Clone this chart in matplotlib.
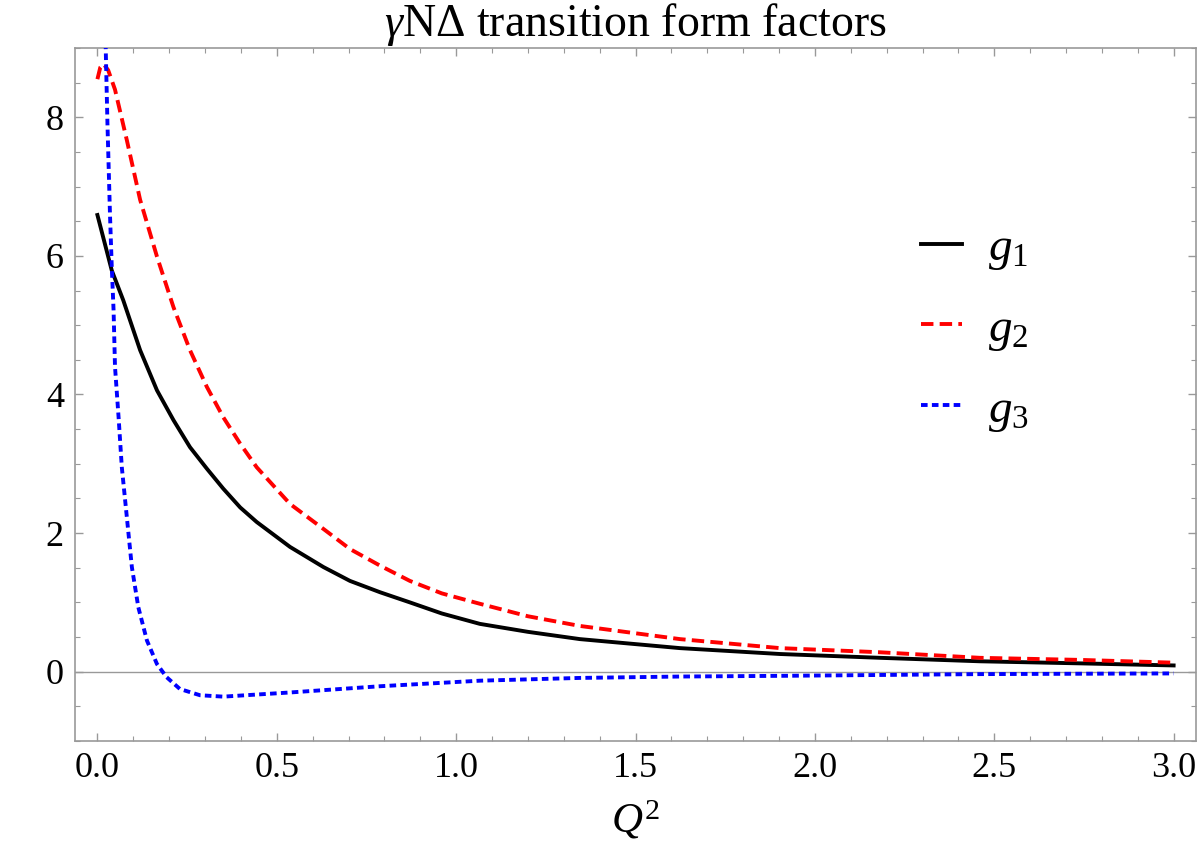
import numpy as np
import matplotlib
matplotlib.use('Agg')
import matplotlib.pyplot as plt
from matplotlib.ticker import MultipleLocator, FormatStrFormatter

plt.rcParams['font.family'] = ['Liberation Serif', 'DejaVu Serif']
plt.rcParams['mathtext.fontset'] = 'custom'
plt.rcParams['mathtext.rm'] = 'Liberation Serif'
plt.rcParams['mathtext.it'] = 'Liberation Serif:italic'

# values
q2_g1 = [0.0, 0.040, 0.072, 0.119, 0.166, 0.212, 0.258, 0.305, 0.351, 0.398,
         0.444, 0.537, 0.630, 0.704, 0.788, 0.871, 0.96, 1.066, 1.2, 1.345,
         1.624, 1.903, 2.182, 2.46, 2.74, 3.0]
g1 = [6.59, 5.79, 5.36, 4.64, 4.06, 3.63, 3.24, 2.93, 2.64, 2.37,
      2.16, 1.80, 1.51, 1.31, 1.146, 1.00, 0.84, 0.69, 0.575, 0.47,
      0.34, 0.255, 0.20, 0.15, 0.12, 0.09]

q2_g2 = [0.0, 0.008, 0.017, 0.03, 0.049, 0.082, 0.11, 0.119, 0.166, 0.212, 0.258,
         0.305, 0.351, 0.398, 0.444, 0.537, 0.630, 0.704, 0.788, 0.871, 0.96,
         1.066, 1.2, 1.345, 1.624, 1.903, 2.182, 2.46, 2.74, 3.0]
g2 = [8.55, 8.72, 8.77, 8.68, 8.40, 7.67, 7.02, 6.81, 5.99, 5.26, 4.64,
      4.11, 3.67, 3.29, 2.95, 2.42, 2.06, 1.77, 1.53, 1.31, 1.13,
      0.98, 0.80, 0.66, 0.47, 0.34, 0.28, 0.20, 0.17, 0.13]

q2_g3 = [0.0, 0.02, 0.023, 0.028, 0.035, 0.040, 0.045, 0.049, 0.059, 0.068,
         0.082, 0.096, 0.114, 0.138, 0.166, 0.193, 0.230, 0.286, 0.351, 0.444,
         0.537, 0.704, 0.788, 1.066, 1.345, 1.624, 1.903, 2.46, 3.0]
g3 = [16.0, 10.0, 9.02, 7.9, 6.6, 5.84, 5.22, 4.40, 3.67, 2.95,
      2.23, 1.51, 0.93, 0.45, 0.11, -0.08, -0.25, -0.34, -0.36, -0.33,
      -0.30, -0.24, -0.21, -0.13, -0.09, -0.07, -0.06, -0.035, -0.025]

fig = plt.figure(figsize=(12, 8.48), dpi=100)
ax = fig.add_axes([0.0625, 0.1262, 0.9342, 0.8172])

ax.axhline(0, color='#999999', lw=1.0, zorder=1)
ax.plot(q2_g1, g1, color='black', lw=2.8, label=r'$g_1$', zorder=3)
ax.plot(q2_g2, g2, color='#ff0000', lw=2.8, dashes=(3.2, 1.6), label=r'$g_2$', zorder=3)
ax.plot(q2_g3, g3, color='#0000ff', lw=2.8, dashes=(1.7, 1.1), label=r'$g_3$', zorder=3)

ax.set_xlim(-0.0625, 3.0625)
ax.set_ylim(-1, 9)
ax.xaxis.set_major_locator(MultipleLocator(0.5))
ax.xaxis.set_minor_locator(MultipleLocator(0.1))
ax.yaxis.set_major_locator(MultipleLocator(2))
ax.yaxis.set_minor_locator(MultipleLocator(0.5))
ax.xaxis.set_major_formatter(FormatStrFormatter('%.1f'))
ax.tick_params(which='both', direction='in', top=True, right=True,
               color='#999999', labelsize=26, labelcolor='black')
ax.tick_params(which='major', length=6, width=1, pad=8)
ax.tick_params(which='minor', length=3.5, width=0.8)
for sp in ax.spines.values():
    sp.set_color('#999999'); sp.set_linewidth(1.2)

ax.set_title(r'$\gamma$N$\Delta$ transition form factors', fontsize=33, pad=4)
ax.set_xlabel(r'$Q^2$', fontsize=31, labelpad=10)

leg = ax.legend(loc='upper left', bbox_to_anchor=(0.717, 0.803), frameon=False,
                fontsize=34, handlelength=0.87, handletextpad=0.55, labelspacing=0.76)

fig.savefig('out.png', dpi=100, facecolor='white')
